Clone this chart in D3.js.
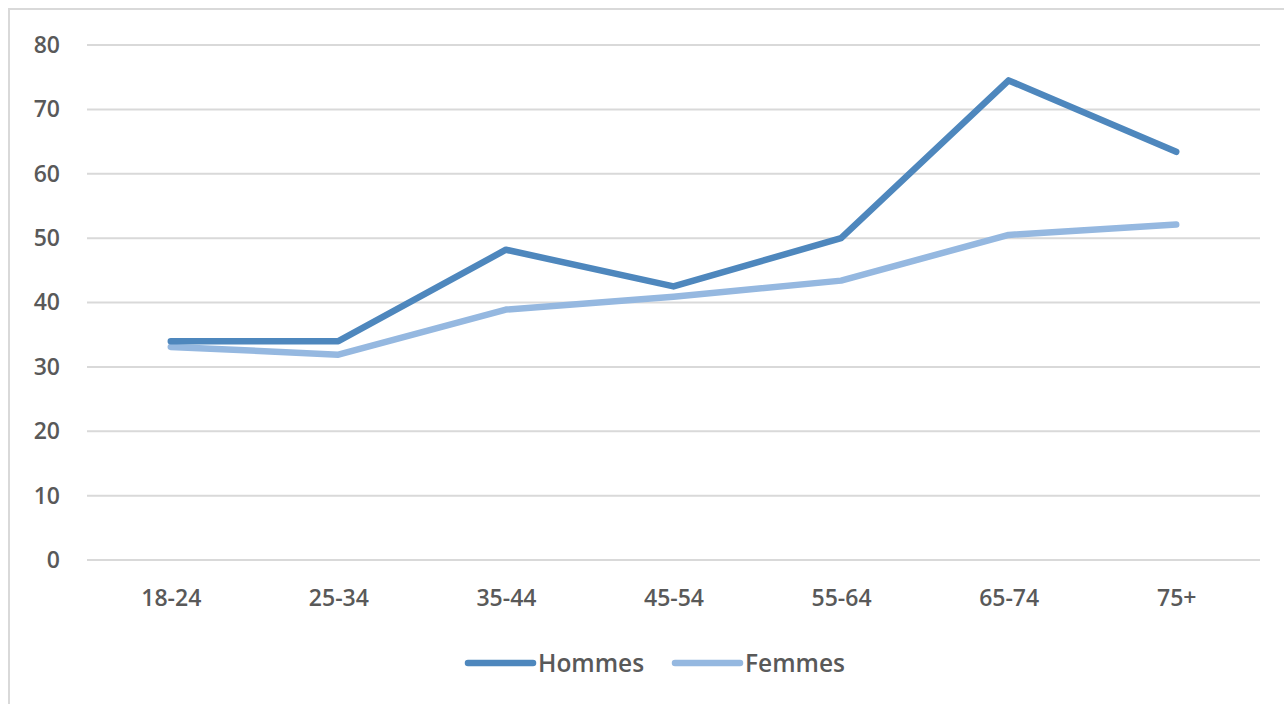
<!DOCTYPE html>
<html><head><meta charset="utf-8">
<script src="https://cdn.jsdelivr.net/npm/d3@7"></script>
<style>
html,body{margin:0;padding:0;background:#fff;}
svg{display:block;}
</style></head>
<body>
<svg id="c" width="1284" height="704"></svg>
<script>
const categories = ["18-24","25-34","35-44","45-54","55-64","65-74","75+"];
const hommes = [34, 34, 48.2, 42.5, 50, 74.5, 63.4];
const femmes = [33.1, 31.9, 38.9, 40.9, 43.4, 50.5, 52.1];
const yTicks = [0,10,20,30,40,50,60,70,80];
const seriesNames = ["Hommes","Femmes"];
const colors = ["#4e87bd","#95b8e0"];

(function(){
const svg = d3.select("#c");
const font = "'Open Sans', sans-serif";
const textColor = "#595959";
const fw = 600, fs = 23;

// frame
svg.append("rect").attr("x",9).attr("y",9).attr("width",1300).attr("height",720)
  .attr("fill","none").attr("stroke","#d9d9d9").attr("stroke-width",2);

const mLeft = 87, mRight = 1260, mTop = 45, mBottom = 560;
const x = d3.scalePoint().domain(categories).range([mLeft, mRight]).padding(0.5);
const y = d3.scaleLinear().domain([0,80]).range([mBottom, mTop]);

// gridlines
svg.append("g").selectAll("line").data(yTicks).join("line")
  .attr("x1",mLeft).attr("x2",mRight)
  .attr("y1",d=>y(d)).attr("y2",d=>y(d))
  .attr("stroke","#d9d9d9").attr("stroke-width",2);

// y axis labels
const yAxis = d3.axisLeft(y).tickValues(yTicks).tickSize(0).tickPadding(0);
const gy = svg.append("g").attr("transform",`translate(60,0)`).call(yAxis);
gy.select(".domain").remove();
gy.selectAll("text").attr("font-family",font).attr("font-size",fs).attr("font-weight",fw).attr("fill",textColor);

// x axis labels
const xAxis = d3.axisBottom(x).tickSize(0).tickPadding(0);
const gx = svg.append("g").attr("transform",`translate(0,${mBottom+30})`).call(xAxis);
gx.select(".domain").remove();
gx.selectAll("text").attr("font-family",font).attr("font-size",fs).attr("font-weight",fw).attr("fill",textColor);

const line = d3.line().x((d,i)=>x(categories[i])).y(d=>y(d));
[[femmes,1],[hommes,0]].forEach(([s,idx])=>{
  svg.append("path").datum(s).attr("d",line)
    .attr("fill","none").attr("stroke",colors[idx]).attr("stroke-width",6.5)
    .attr("stroke-linejoin","round").attr("stroke-linecap","round");
});

// legend
const legendItems = [{name:seriesNames[0],color:colors[0],x:466},{name:seriesNames[1],color:colors[1],x:673}];
const lg = svg.append("g");
legendItems.forEach(it=>{
  lg.append("line").attr("x1",it.x+2).attr("x2",it.x+67).attr("y1",663).attr("y2",663)
    .attr("stroke",it.color).attr("stroke-width",6.5).attr("stroke-linecap","round");
  lg.append("text").attr("x",it.x+72).attr("y",663).attr("dy","0.35em")
    .attr("font-family",font).attr("font-size",24.5).attr("font-weight",fw).attr("fill",textColor).text(it.name);
});
})();
</script>
</body></html>
